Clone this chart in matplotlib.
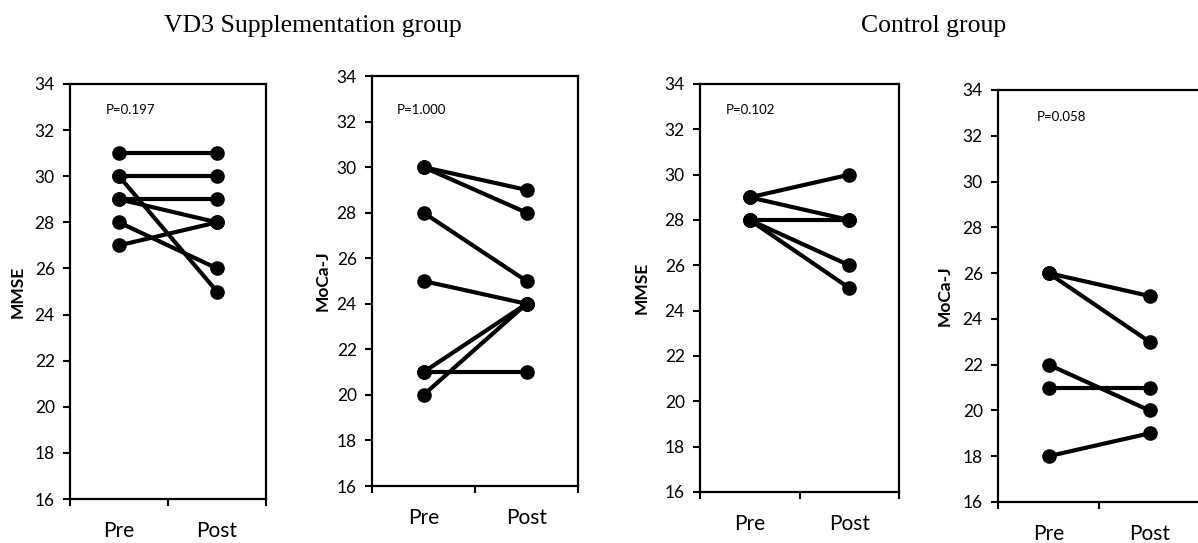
import matplotlib
matplotlib.use("Agg")
import matplotlib.pyplot as plt
from matplotlib.ticker import FixedLocator, NullFormatter, FixedFormatter

# paired Pre -> Post scores, one entry per subject
vd3_mmse_pre = [31, 30, 30, 29, 29, 28, 27]
vd3_mmse_post = [31, 30, 25, 29, 28, 26, 28]
vd3_moca_pre = [30, 30, 28, 25, 21, 20, 21]
vd3_moca_post = [29, 28, 25, 24, 24, 24, 21]
ctl_mmse_pre = [29, 29, 28, 28, 28]
ctl_mmse_post = [30, 28, 28, 26, 25]
ctl_moca_pre = [26, 26, 22, 21, 18]
ctl_moca_post = [25, 23, 20, 21, 19]

p_values = ["P=0.197", "P=1.000", "P=0.102", "P=0.058"]
y_labels = ["MMSE", "MoCa-J", "MMSE", "MoCa-J"]
time_labels = ["Pre", "Post"]
group_titles = ["VD3 Supplementation group", "Control group"]
y_ticks = [16, 18, 20, 22, 24, 26, 28, 30, 32, 34]

W, H = 1198, 543
fig = plt.figure(figsize=(W / 100.0, H / 100.0), dpi=100)

# axes boxes in pixels: left, top, right, bottom
boxes = [(70, 84, 266, 499), (372, 76, 578, 486),
         (700, 84, 899, 492), (998, 90, 1200, 502)]
ptext_pos = [(0.18, 0.937), (0.12, 0.917), (0.13, 0.936), (0.19, 0.934)]
ylabel_x = [18, 323, 642, 945]

panels = [(vd3_mmse_pre, vd3_mmse_post), (vd3_moca_pre, vd3_moca_post),
          (ctl_mmse_pre, ctl_mmse_post), (ctl_moca_pre, ctl_moca_post)]

tick_font = "Lato"

for i, (pre, post) in enumerate(panels):
	l, t, r, b = boxes[i]
	ax = fig.add_axes([l / float(W), 1 - b / float(H), (r - l) / float(W), (b - t) / float(H)])
	for a, c in zip(pre, post):
		ax.plot([0.5, 1.5], [a, c], color="black", lw=3.0, marker="o", ms=9.5,
			solid_capstyle="round", clip_on=False)
	ax.set_xlim(0, 2)
	ax.set_ylim(16, 34)
	ax.set_yticks(y_ticks)
	ax.set_yticklabels([str(v) for v in y_ticks], fontsize=12.5, family=tick_font)
	ax.xaxis.set_major_locator(FixedLocator([0, 1, 2]))
	ax.xaxis.set_major_formatter(NullFormatter())
	ax.xaxis.set_minor_locator(FixedLocator([0.5, 1.5]))
	ax.xaxis.set_minor_formatter(FixedFormatter(time_labels))
	ax.tick_params(axis="x", which="minor", length=0, pad=16, labelsize=15)
	ax.tick_params(axis="x", which="major", length=5, width=1.5, direction="out")
	ax.tick_params(axis="y", length=5, width=1.5, direction="out", pad=6)
	for lab in ax.get_xticklabels(minor=True):
		lab.set_family(tick_font)
	for sp in ax.spines.values():
		sp.set_linewidth(1.6)
	ax.text(ptext_pos[i][0], ptext_pos[i][1], p_values[i], transform=ax.transAxes,
		fontsize=9.5, family=tick_font, va="center", ha="left")
	fig.text(ylabel_x[i] / float(W), 1 - ((t + b) / 2.0) / H, y_labels[i], rotation=90,
		fontsize=12.5, fontweight="bold", family=tick_font, ha="center", va="center")

fig.text(313 / float(W), 1 - 32 / float(H), group_titles[0], fontsize=18.5,
	family="Liberation Serif", ha="center", va="baseline")
fig.text(934 / float(W), 1 - 32 / float(H), group_titles[1], fontsize=18.5,
	family="Liberation Serif", ha="center", va="baseline")

fig.savefig("out.png", dpi=100)
